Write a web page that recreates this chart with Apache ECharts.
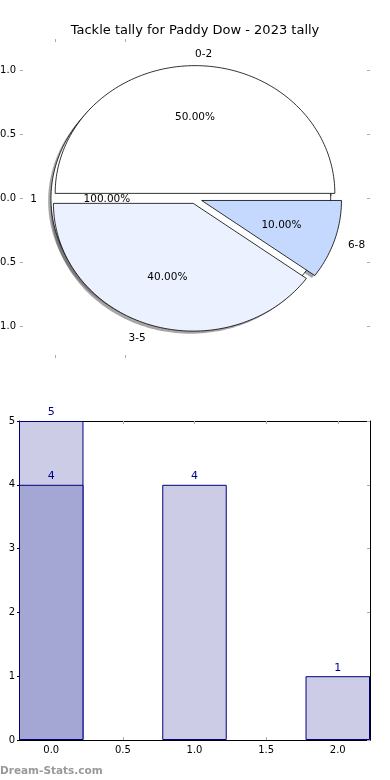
<!DOCTYPE html>
<html><head><meta charset="utf-8">
<script src="https://cdn.jsdelivr.net/npm/echarts@6/dist/echarts.min.js"></script>
<style>html,body{margin:0;padding:0;background:#fff}#c{width:390px;height:780px}</style>
</head><body><div id="c"></div>
<script>
// ---- data ----
const titleText = 'Tackle tally for Paddy Dow - 2023 tally';
const pieCategories = ['0-2', '3-5', '6-8'];
const pieValues = [5, 4, 1];
const totalCategories = ['1'];
const totalValues = [1];
const barPositions = [0, 1, 2];
const barValues = [5, 4, 1];
const overlayPositions = [0];
const overlayValues = [4];
const pieYTicks = [-1.0, -0.5, 0.0, 0.5, 1.0];
const pieXTicks = [-1.0, -0.5];
const barXTicks = [0, 0.5, 1, 1.5, 2];
const watermark = 'Dream-Stats.com';

// ---- styles ----
const sliceColors = ['#ffffff', '#ebf1fe', '#c5d8fe'];
const sliceExplode = [0.04, 0.04, 0.05];
const totalColors = ['#ffffff'];
const totalExplode = [0.03];
const FONT = 'DejaVu Sans';

function buildWedges(names, values, explode, colors) {
  const sum = values.reduce((a, b) => a + b, 0);
  let acc = 0;
  return values.map((v, i) => {
    const s = acc / sum; acc += v; const e = acc / sum;
    return { name: names[i], s: s, e: e, ex: explode[i], color: colors[i], pct: v / sum * 100 };
  });
}
const totalWedges = buildWedges(totalCategories, totalValues, totalExplode, totalColors);
const sliceWedges = buildWedges(pieCategories, pieValues, sliceExplode, sliceColors);
const allWedges = totalWedges.concat(sliceWedges);

function geom(w) {
  const t1 = w.s * 2 * Math.PI, t2 = w.e * 2 * Math.PI, mid = (t1 + t2) / 2;
  return { t1, t2, mid, ox: w.ex * Math.cos(mid), oy: w.ex * Math.sin(mid) };
}
function wedgePoints(w, api, dx, dy) {
  const g = geom(w);
  const ox = g.ox + dx, oy = g.oy + dy;
  const n = Math.max(6, Math.ceil((g.t2 - g.t1) / (2 * Math.PI) * 240));
  const pts = [];
  for (let k = 0; k <= n; k++) {
    const t = g.t1 + (g.t2 - g.t1) * k / n;
    pts.push(api.coord([ox + Math.cos(t), oy + Math.sin(t)]));
  }
  if (w.e - w.s < 0.9999) pts.push(api.coord([ox, oy]));
  return pts;
}
function wedgeSeries(list, z) {
  return {
    type: 'custom', xAxisIndex: 0, yAxisIndex: 0, z: z, silent: true,
    data: list.map(w => [w.s, w.e]),
    renderItem: (p, api) => {
      const w = list[p.dataIndex];
      return { type: 'polygon', shape: { points: wedgePoints(w, api, 0, 0) },
        style: { fill: w.color, stroke: '#000', lineWidth: 0.8 } };
    }
  };
}

const chart = echarts.init(document.getElementById('c'), null, { renderer: 'canvas' });

const grayTick = { color: '#aaaaaa', width: 1 };
const pieX = { min: -1.23, max: 1.23 };
const pieY = { min: -1.225, max: 1.225 };

const option = {
  animation: false,
  backgroundColor: '#ffffff',
  grid: [
    { left: 23, width: 344, top: 42, height: 313, outerBoundsMode: 'none', containLabel: false },
    { left: 19, width: 351, top: 421, height: 319, outerBoundsMode: 'none', containLabel: false }
  ],
  xAxis: [
    { type: 'value', gridIndex: 0, position: 'bottom', min: pieX.min, max: pieX.max,
      axisLine: { show: false, onZero: false }, splitLine: { show: false },
      axisTick: { show: true, customValues: pieXTicks, length: 3, lineStyle: grayTick },
      axisLabel: { show: false } },
    { type: 'value', gridIndex: 0, position: 'top', min: pieX.min, max: pieX.max,
      axisLine: { show: false, onZero: false }, splitLine: { show: false },
      axisTick: { show: true, customValues: pieXTicks, length: 3, lineStyle: grayTick },
      axisLabel: { show: false } },
    { type: 'value', gridIndex: 1, position: 'bottom', min: -0.225, max: 2.225,
      axisLine: { show: true, onZero: false, lineStyle: { color: '#000', width: 1 } },
      splitLine: { show: false },
      axisTick: { show: true, inside: true, customValues: barXTicks, length: 3, lineStyle: grayTick },
      axisLabel: { customValues: barXTicks, formatter: v => Number(v).toFixed(1),
        color: '#000', fontSize: 10, fontFamily: FONT, margin: 5 } },
    { type: 'value', gridIndex: 1, position: 'top', min: -0.225, max: 2.225,
      axisLine: { show: true, onZero: false, lineStyle: { color: '#000', width: 1 } },
      splitLine: { show: false },
      axisTick: { show: true, inside: true, customValues: barXTicks, length: 3, lineStyle: grayTick },
      axisLabel: { show: false } }
  ],
  yAxis: [
    { type: 'value', gridIndex: 0, position: 'left', min: pieY.min, max: pieY.max,
      axisLine: { show: false, onZero: false }, splitLine: { show: false },
      axisTick: { show: true, customValues: pieYTicks, length: 3, lineStyle: grayTick },
      axisLabel: { customValues: pieYTicks, formatter: v => Number(v).toFixed(1),
        color: '#000', fontSize: 10, fontFamily: FONT, margin: 7 } },
    { type: 'value', gridIndex: 0, position: 'right', min: pieY.min, max: pieY.max,
      axisLine: { show: false, onZero: false }, splitLine: { show: false },
      axisTick: { show: true, customValues: pieYTicks, length: 3, lineStyle: grayTick },
      axisLabel: { show: false } },
    { type: 'value', gridIndex: 1, position: 'left', min: 0, max: 5, interval: 1,
      axisLine: { show: true, onZero: false, lineStyle: { color: '#000', width: 1 } },
      splitLine: { show: false },
      axisTick: { show: true, length: 2, lineStyle: { color: '#000', width: 1 } },
      axisLabel: { color: '#000', fontSize: 10, fontFamily: FONT, margin: 4 } },
    { type: 'value', gridIndex: 1, position: 'right', min: 0, max: 5, interval: 1,
      axisLine: { show: true, onZero: false, lineStyle: { color: '#000', width: 1 } },
      splitLine: { show: false },
      axisTick: { show: true, inside: true, length: 3, lineStyle: grayTick },
      axisLabel: { show: false } }
  ],
  graphic: [
    { type: 'text', x: 195, y: 31, z: 100,
      style: { text: titleText, fill: '#000', fontSize: 13, fontFamily: FONT, align: 'center', verticalAlign: 'middle' } },
    { type: 'text', x: 0, y: 771, z: 100,
      style: { text: watermark, fill: '#999999', fontSize: 10.5, fontWeight: 'bold', fontFamily: FONT, align: 'left', verticalAlign: 'middle' } }
  ],
  series: [
    // shadows
    { type: 'custom', xAxisIndex: 0, yAxisIndex: 0, z: 1, silent: true,
      data: allWedges.map(w => [w.s, w.e]),
      renderItem: (p, api) => {
        const w = allWedges[p.dataIndex];
        return { type: 'polygon', shape: { points: wedgePoints(w, api, -0.02, -0.02) },
          style: { fill: 'rgba(77,77,77,0.5)' } };
      } },
    wedgeSeries(totalWedges, 2),
    wedgeSeries(sliceWedges, 3),
    // labels
    { type: 'custom', xAxisIndex: 0, yAxisIndex: 0, z: 5, silent: true,
      data: allWedges.map(w => [w.s, w.e]),
      renderItem: (p, api) => {
        const w = allWedges[p.dataIndex];
        const g = geom(w);
        const c = Math.cos(g.mid), s = Math.sin(g.mid);
        const lp = api.coord([g.ox + 1.1 * c, g.oy + 1.1 * s]);
        const pp = api.coord([g.ox + 0.6 * c, g.oy + 0.6 * s]);
        return { type: 'group', children: [
          { type: 'text', x: lp[0], y: lp[1] + 1, style: { text: w.name, fill: '#000', fontSize: 10.5, fontFamily: FONT,
            align: c > 0 ? 'left' : 'right', verticalAlign: 'middle' } },
          { type: 'text', x: pp[0], y: pp[1] + 1, style: { text: w.pct.toFixed(2) + '%', fill: '#000', fontSize: 10.5, fontFamily: FONT,
            align: 'center', verticalAlign: 'middle' } }
        ] };
      } },
    // bars
    { type: 'bar', xAxisIndex: 2, yAxisIndex: 2, z: 2,
      data: barPositions.map((x, i) => [x, barValues[i]]),
      barWidth: '45%', barGap: '-100%',
      itemStyle: { color: '#ccccE6', borderColor: '#000080', borderWidth: 1 },
      label: { show: true, position: 'top', distance: 3, color: '#00008b', fontSize: 11, fontFamily: FONT },
      emphasis: { disabled: true } },
    { type: 'bar', xAxisIndex: 2, yAxisIndex: 2, z: 3,
      data: overlayPositions.map((x, i) => [x, overlayValues[i]]),
      barWidth: '45%', barGap: '-100%',
      itemStyle: { color: '#a4a6d4', borderColor: '#000080', borderWidth: 1 },
      label: { show: true, position: 'top', distance: 3, color: '#00008b', fontSize: 11, fontFamily: FONT },
      emphasis: { disabled: true } }
  ]
};
chart.setOption(option);
</script>
</body></html>
